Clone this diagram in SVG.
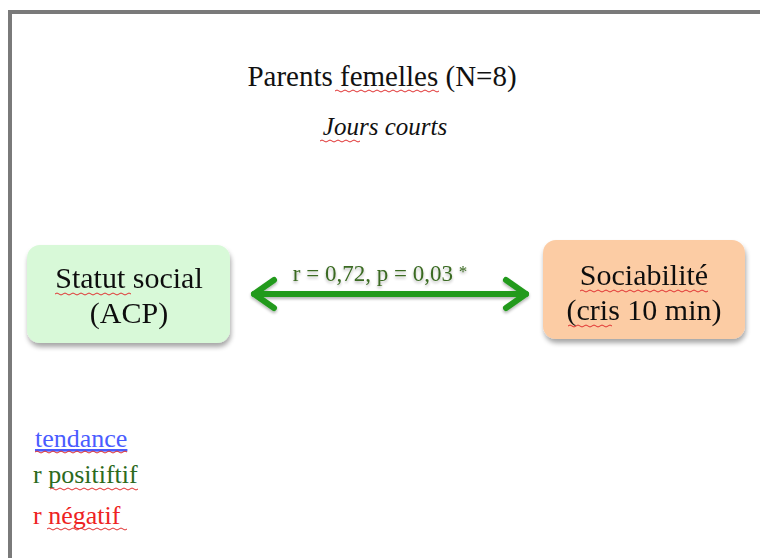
<svg xmlns="http://www.w3.org/2000/svg" width="760" height="558" viewBox="0 0 760 558">
<defs>
<style>
.t{font-family:"Liberation Serif","Times New Roman",serif;fill:#111}
.sq{fill:none;stroke:#e03030;stroke-width:1}
</style>
<filter id="sh" x="-10%" y="-10%" width="125%" height="130%">
<feGaussianBlur in="SourceAlpha" stdDeviation="2.5"/>
<feOffset dx="1" dy="4" result="b"/>
<feComponentTransfer><feFuncA type="linear" slope="0.35"/></feComponentTransfer>
<feMerge><feMergeNode/><feMergeNode in="SourceGraphic"/></feMerge>
</filter>
<filter id="ash" x="-5%" y="-50%" width="110%" height="200%">
<feGaussianBlur in="SourceAlpha" stdDeviation="1.5"/>
<feOffset dx="0" dy="2"/>
<feComponentTransfer><feFuncA type="linear" slope="0.3"/></feComponentTransfer>
<feMerge><feMergeNode/><feMergeNode in="SourceGraphic"/></feMerge>
</filter>
</defs>
<rect width="760" height="558" fill="#fff"/>
<path d="M10,558 V12 H760" fill="none" stroke="#7a7a7a" stroke-width="4"/>

<g id="title">
<text class="t" x="382" y="86" font-size="29" text-anchor="middle">Parents femelles (N=8)</text>
<path class="sq" d="M335,91 q2,-2 4,0 t4,0 t4,0 t4,0 t4,0 t4,0 t4,0 t4,0 t4,0 t4,0 t4,0 t4,0 t4,0 t4,0 t4,0 t4,0 t4,0 t4,0 t4,0 t4,0 t4,0 t4,0 t4,0 t4,0 t4,0 t4,0"/>
<text class="t" x="385" y="135" font-size="25" font-style="italic" text-anchor="middle">Jours courts</text>
<path class="sq" d="M320,141 q2,-2 4,0 t4,0 t4,0 t4,0 t4,0 t4,0 t4,0 t4,0 t4,0 t4,0"/>
</g>

<g id="node-statut" filter="url(#sh)">
<rect x="27" y="245" width="203" height="98" rx="13" fill="#d8f9d8"/>
<text class="t" x="129" y="288" font-size="30" text-anchor="middle">Statut social</text>
<text class="t" x="129" y="323" font-size="30" text-anchor="middle">(ACP)</text>
</g>
<path class="sq" d="M55,294 q2,-2 4,0 t4,0 t4,0 t4,0 t4,0 t4,0 t4,0 t4,0 t4,0 t4,0 t4,0 t4,0 t4,0 t4,0 t4,0 t4,0 t4,0 t4,0 t4,0"/>

<g id="node-sociabilite" filter="url(#sh)">
<rect x="543" y="240" width="202" height="99" rx="13" fill="#fccca4"/>
<text class="t" x="644" y="285" font-size="30" text-anchor="middle">Sociabilité</text>
<text class="t" x="644" y="320" font-size="30" text-anchor="middle">(cris 10 min)</text>
</g>
<path class="sq" d="M580,291 q2,-2 4,0 t4,0 t4,0 t4,0 t4,0 t4,0 t4,0 t4,0 t4,0 t4,0 t4,0 t4,0 t4,0 t4,0 t4,0 t4,0 t4,0 t4,0 t4,0 t4,0 t4,0 t4,0 t4,0 t4,0 t4,0 t4,0 t4,0 t4,0 t4,0 t4,0 t4,0 t4,0"/>
<path class="sq" d="M568,326 q2,-2 4,0 t4,0 t4,0 t4,0 t4,0 t4,0 t4,0 t4,0 t4,0 t4,0 t4,0"/>

<g id="connectors" filter="url(#ash)">
<g fill="none" stroke="#229a1c" stroke-width="6" stroke-linecap="round" stroke-linejoin="round">
<path d="M254,294 H526"/>
<path d="M274,280 L254,294 L274,308"/>
<path d="M506,280 L526,294 L506,308"/>
</g>
<text x="380" y="281" font-family="Liberation Serif, Times New Roman, serif" font-size="23" fill="#3a6a22" text-anchor="middle">r = 0,72, p = 0,03 <tspan font-size="17" dy="-4">*</tspan></text>
</g>

<g id="legend">
<text x="35" y="447" font-family="Liberation Serif, Times New Roman, serif" font-size="26" fill="#4a5cff" text-decoration="underline">tendance</text>
<path class="sq" d="M35,452 q2,-2 4,0 t4,0 t4,0 t4,0 t4,0 t4,0 t4,0 t4,0 t4,0 t4,0 t4,0 t4,0 t4,0 t4,0 t4,0 t4,0 t4,0 t4,0 t4,0 t4,0 t4,0 t4,0 t4,0"/>
<text x="33" y="483" font-family="Liberation Serif, Times New Roman, serif" font-size="26" fill="#2c6a1c">r positiftif</text>
<path class="sq" d="M50,489 q2,-2 4,0 t4,0 t4,0 t4,0 t4,0 t4,0 t4,0 t4,0 t4,0 t4,0 t4,0 t4,0 t4,0 t4,0 t4,0 t4,0 t4,0 t4,0 t4,0 t4,0 t4,0 t4,0"/>
<text x="33" y="524" font-family="Liberation Serif, Times New Roman, serif" font-size="26" fill="#ee2222">r négatif</text>
<path class="sq" d="M47,529 q2,-2 4,0 t4,0 t4,0 t4,0 t4,0 t4,0 t4,0 t4,0 t4,0 t4,0 t4,0 t4,0 t4,0 t4,0 t4,0 t4,0 t4,0 t4,0 t4,0 t4,0"/>
</g>
</svg>
